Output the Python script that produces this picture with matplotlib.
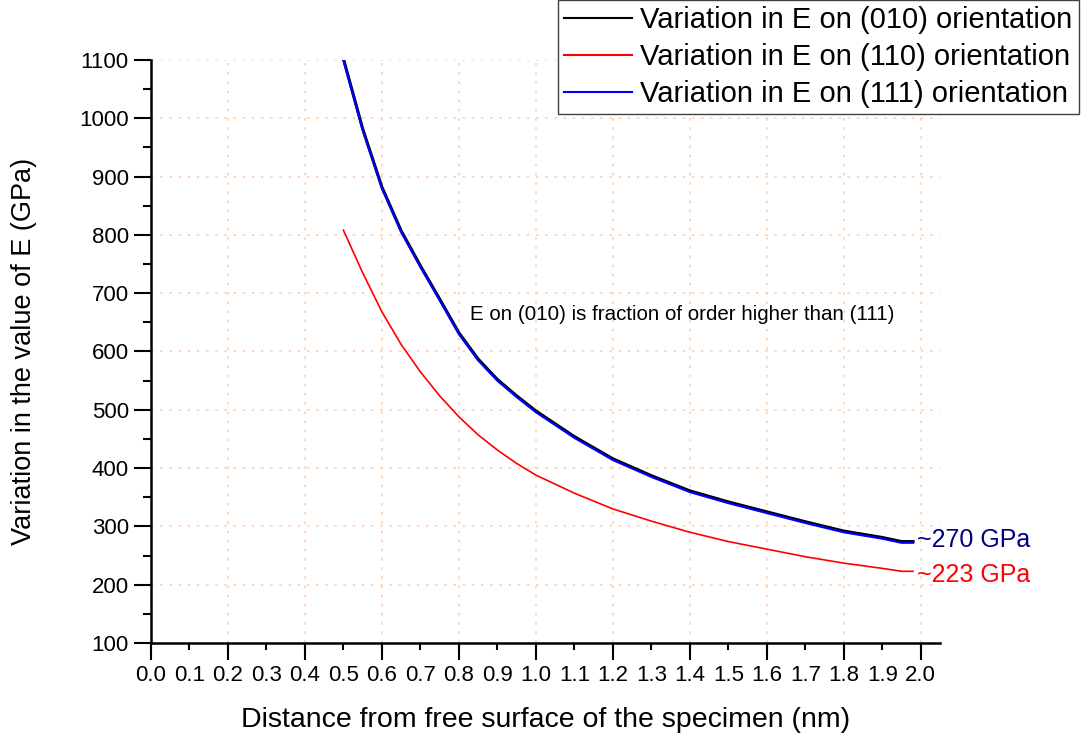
import numpy as np
import matplotlib
matplotlib.use('Agg')
import matplotlib.pyplot as plt
from matplotlib.ticker import MultipleLocator, FormatStrFormatter

plt.rcParams['font.family'] = ['Liberation Sans', 'DejaVu Sans']

# distance from free surface (nm)
dist = [0.50, 0.55, 0.60, 0.65, 0.70, 0.75, 0.80, 0.85, 0.90, 0.95, 1.00,
        1.10, 1.20, 1.30, 1.40, 1.50, 1.60, 1.70, 1.80, 1.90, 1.95, 1.98]

# E values (GPa)
E_010 = [1102, 982, 882, 807, 747, 690, 632, 587, 552, 524, 498,
         454, 416, 387, 361, 342, 325, 308, 292, 281, 274, 274]
E_110 = [808, 735, 668, 612, 565, 524, 488, 457, 431, 408, 388,
         357, 330, 309, 290, 274, 261, 248, 237, 228, 223, 223]
E_111 = [1100, 980, 880, 805, 745, 688, 630, 585, 550, 522, 496,
         452, 414, 385, 359, 340, 323, 306, 290, 279, 272, 272]

labels = ['Variation in E on (010) orientation',
          'Variation in E on (110) orientation',
          'Variation in E on (111) orientation']

fig = plt.figure(figsize=(10.84, 7.36), dpi=100)
ax = fig.add_axes([151/1084, 1-643/736, (940-151)/1084, (643-60)/736])

l1, = ax.plot(dist, E_010, color='black', lw=2.2, label=labels[0])
l2, = ax.plot(dist, E_110, color='#ff0000', lw=1.2, label=labels[1])
l3, = ax.plot(dist, E_111, color='#0000ff', lw=1.6, label=labels[2])

ax.set_xlim(0, 2.05)
ax.set_ylim(100, 1100)

# ticks
ax.xaxis.remove_overlapping_locs = False
ax.xaxis.set_major_locator(MultipleLocator(0.1))
ax.xaxis.set_major_formatter(FormatStrFormatter('%.1f'))
ax.xaxis.set_minor_locator(MultipleLocator(0.2))
ax.yaxis.set_major_locator(MultipleLocator(100))
ax.yaxis.set_minor_locator(MultipleLocator(50))
ax.tick_params(axis='x', which='major', length=5, width=1.5, labelsize=16, pad=11)
ax.tick_params(axis='x', which='minor', length=12, width=1.5)
ax.tick_params(axis='y', which='major', length=12, width=1.5, labelsize=16, pad=4)
ax.tick_params(axis='y', which='minor', length=6, width=1.5)

# grid
gridc = '#ffcfae'
ax.grid(True, which='minor', axis='x', color=gridc, ls=(0, (1.5, 4)), lw=1.2)
ax.grid(True, which='major', axis='y', color=gridc, ls=(0, (1.5, 4)), lw=1.2)
ax.set_axisbelow(True)

for s in ['top', 'right']:
    ax.spines[s].set_visible(False)
for s in ['left', 'bottom']:
    ax.spines[s].set_linewidth(1.8)

ax.set_xlabel('Distance from free surface of the specimen (nm)', fontsize=20.5, labelpad=15)
ax.set_ylabel('Variation in the value of E (GPa)', fontsize=19.5, labelpad=30)

ax.text(0.83, 664, 'E on (010) is fraction of order higher than (111)', fontsize=14.8,
        va='center', ha='left')
ax.text(1.99, 276, '~270 GPa', color='#000080', fontsize=18, va='center', ha='left', clip_on=False)
ax.text(1.99, 216, '~223 GPa', color='#ff0000', fontsize=18, va='center', ha='left', clip_on=False)

leg = fig.legend(handles=[l1, l2, l3], loc='upper right', bbox_to_anchor=(1079/1084, 1.0),
                 fontsize=21, frameon=True, fancybox=False, framealpha=1, edgecolor='#404040',
                 handlelength=2.3, handletextpad=0.3, borderpad=0.22, labelspacing=0.3,
                 borderaxespad=0)
leg.get_frame().set_linewidth(1.0)
for h in leg.get_lines():
    h.set_linewidth(1.5)

fig.savefig('out.png', dpi=100)
